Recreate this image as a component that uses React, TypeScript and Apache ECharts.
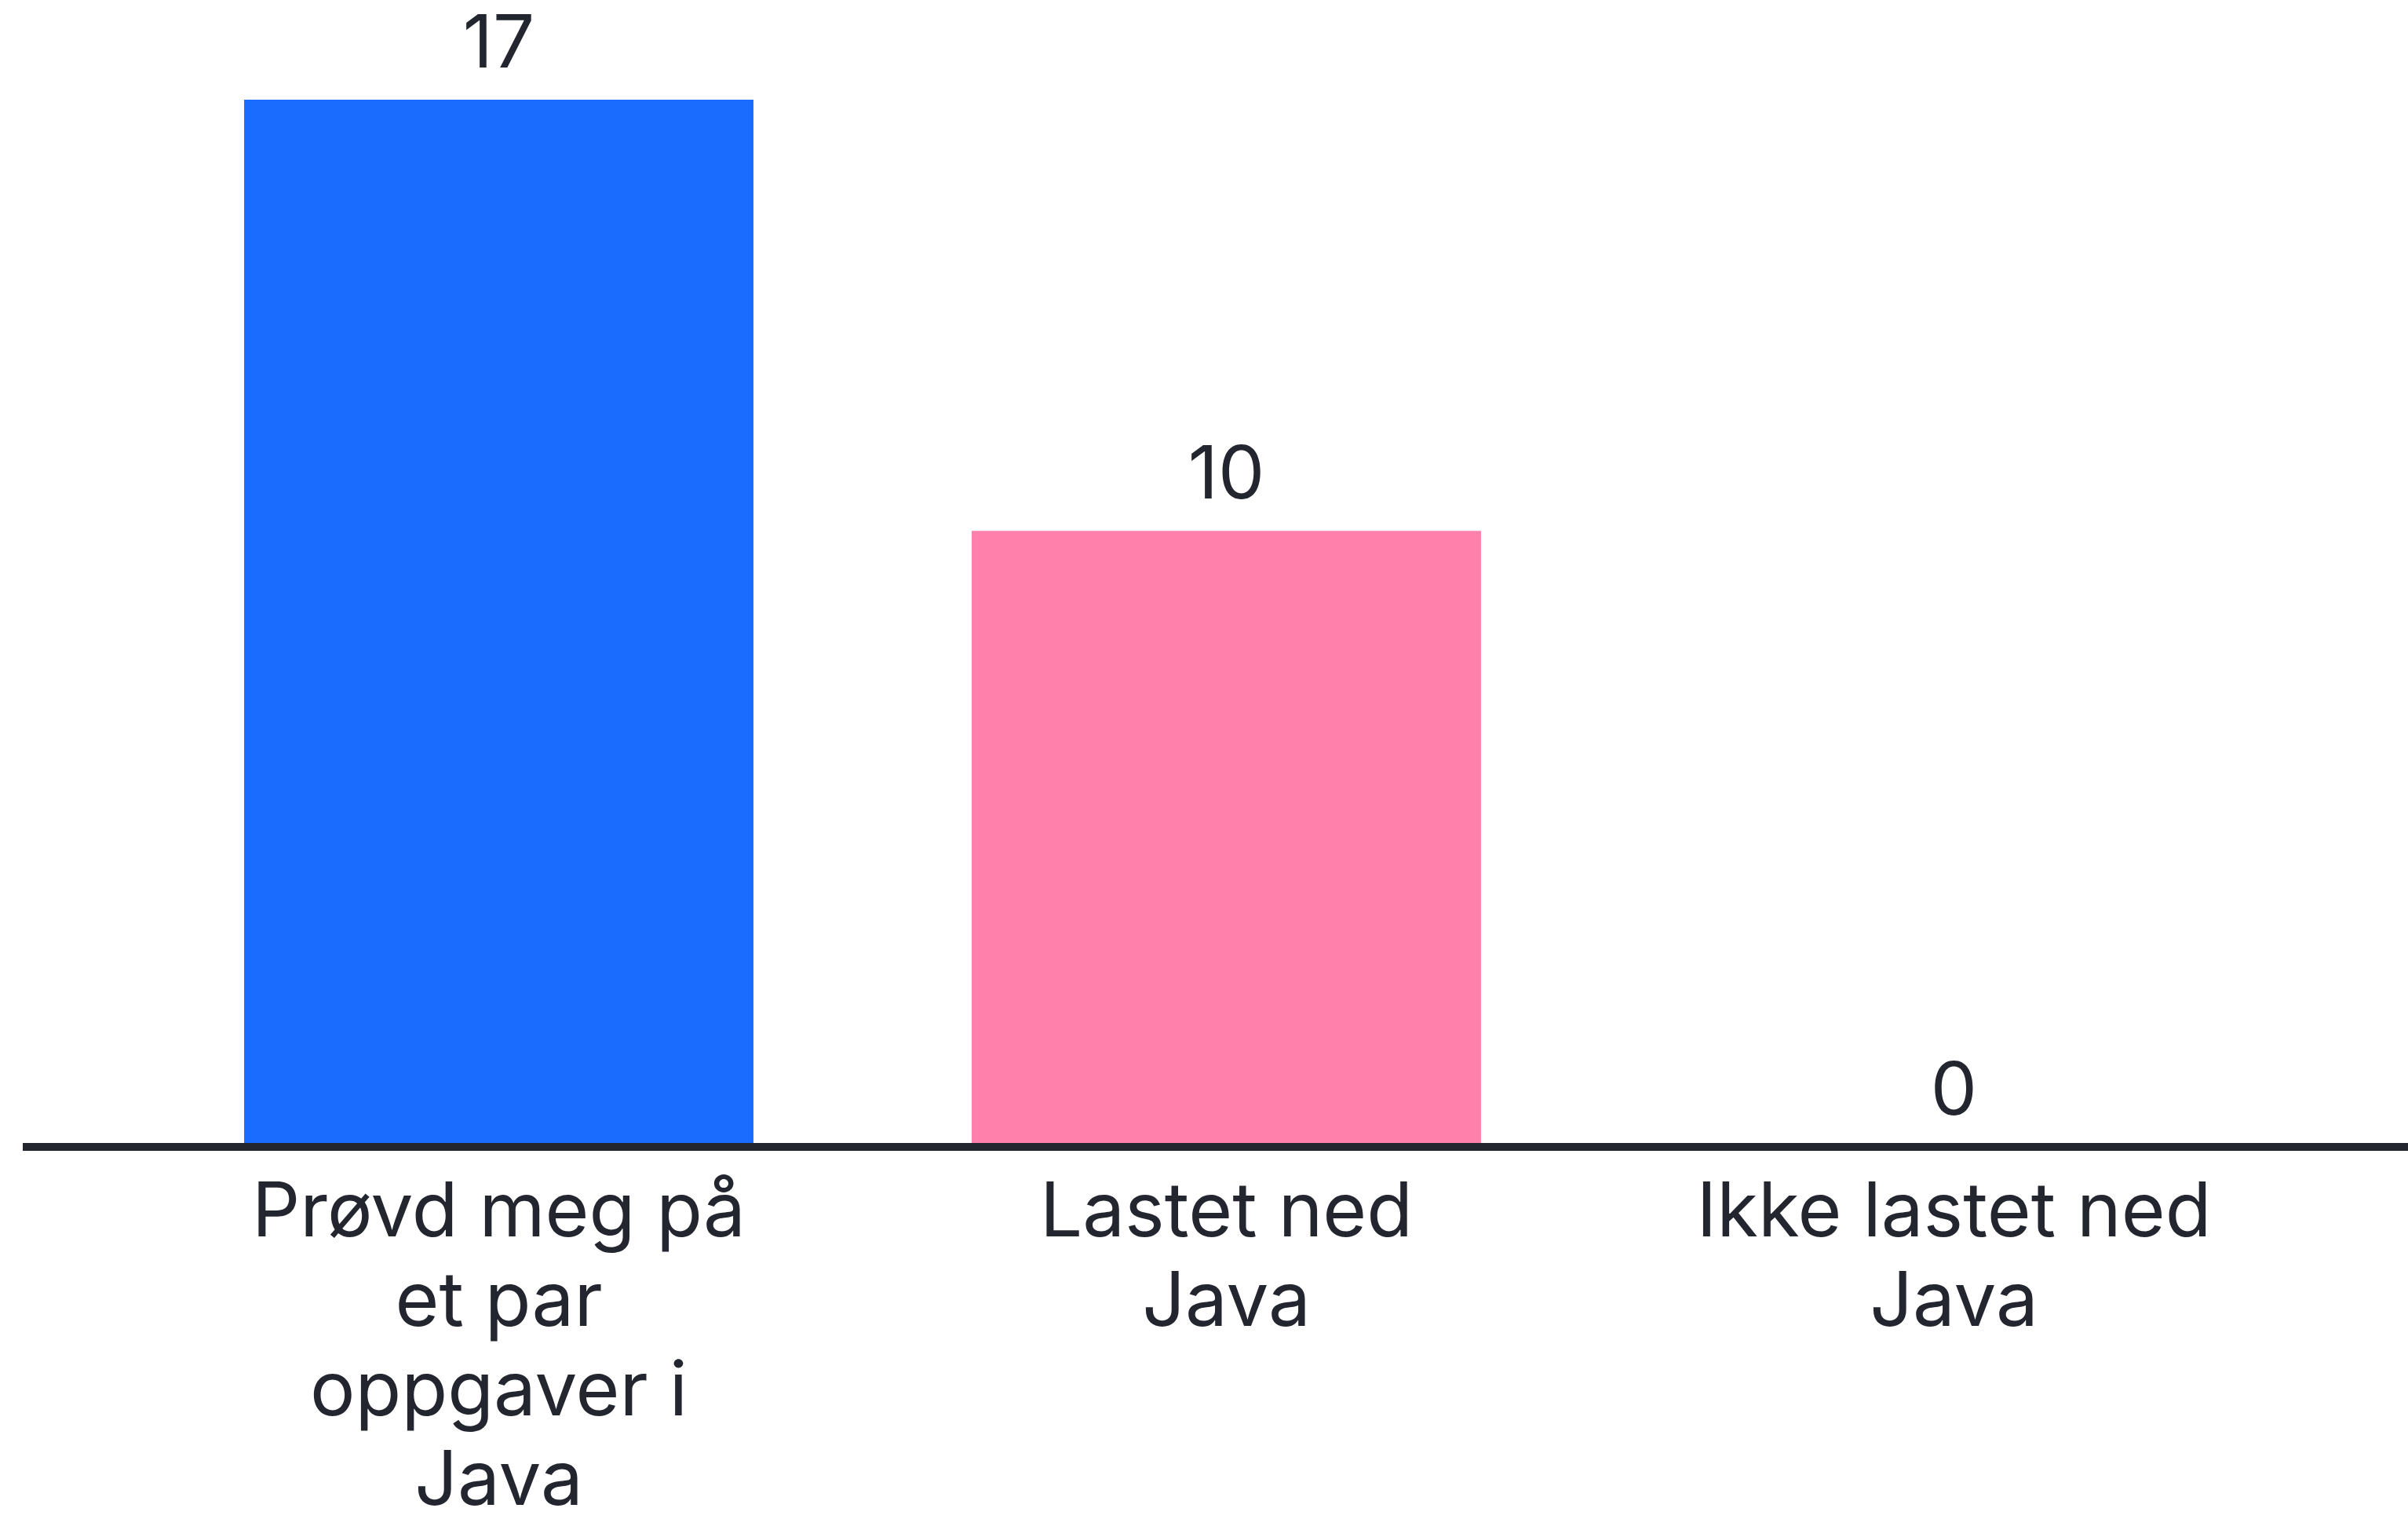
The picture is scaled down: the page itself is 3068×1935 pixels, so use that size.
import React, { useEffect, useRef } from "react";
import * as echarts from "echarts";

const categories = [
  "Prøvd meg på\net par\noppgaver i\nJava",
  "Lastet ned\nJava",
  "Ikke lastet ned\nJava",
];
const values = [17, 10, 0];
const barColors = ["#1a6bff", "#ff80aa", "#ffd600"];

export default function App() {
  const ref = useRef<HTMLDivElement>(null);
  useEffect(() => {
    if (!ref.current) return;
    const chart = echarts.init(ref.current, null, { renderer: "svg" });
    const textColor = "#23262f";
    const font = "Inter";
    chart.setOption({
      animation: false,
      backgroundColor: "#ffffff",
      grid: {
        left: 172,
        right: 115,
        top: 127,
        bottom: 474,
        containLabel: false,
        outerBoundsMode: "none",
      },
      xAxis: {
        type: "category",
        data: categories,
        axisLine: { show: false },
        axisTick: { show: false },
        axisLabel: {
          color: textColor,
          fontFamily: font,
          fontSize: 96,
          lineHeight: 114,
          margin: 22,
          interval: 0,
          align: "center",
        },
      },
      yAxis: {
        type: "value",
        min: 0,
        max: 17,
        show: false,
        splitLine: { show: false },
      },
      series: [
        {
          type: "bar",
          barWidth: "70%",
          data: values.map((v, i) => ({ value: v, itemStyle: { color: barColors[i] } })),
          label: {
            show: true,
            position: "top",
            distance: 28,
            color: textColor,
            fontFamily: font,
            fontSize: 94,
            lineHeight: 94,
          },
        },
      ],
      graphic: [
        {
          type: "line",
          z: 100,
          shape: { x1: 29, y1: 1461, x2: 3068, y2: 1461 },
          style: { stroke: "#23262f", lineWidth: 10 },
        },
      ],
    });
    return () => chart.dispose();
  }, []);
  return (
    <div
      ref={ref}
      style={{ position: "absolute", left: 0, top: 0, width: 3068, height: 1935 }}
    />
  );
}
